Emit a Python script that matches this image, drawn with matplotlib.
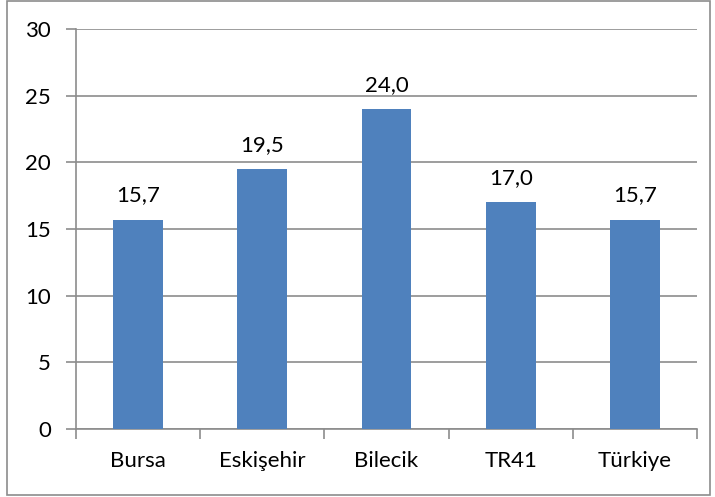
import matplotlib.pyplot as plt
from matplotlib.patches import Rectangle

# Veriler
categories = ["Bursa", "Eskişehir", "Bilecik", "TR41", "Türkiye"]
values = [15.7, 19.5, 24.0, 17.0, 15.7]
yticks = [0, 5, 10, 15, 20, 25, 30]

plt.rcParams['font.family'] = ['Lato', 'DejaVu Sans']

fig = plt.figure(figsize=(7.15, 4.97), dpi=100)
ax = fig.add_axes([0.106, 0.137, 0.869, 0.805])

# Dış çerçeve
fig.patches.append(Rectangle((7 / 715, 2 / 497), 703 / 715, 494 / 497,
                             transform=fig.transFigure, fill=False,
                             edgecolor="#8c8c8c", linewidth=1.2))

x = range(len(categories))
bars = ax.bar(x, values, width=0.4, color="#4F81BD", zorder=3)
for xi, v in zip(x, values):
    ax.text(xi, v + 1.35, f"{v:.1f}".replace(".", ","), ha="center",
            va="baseline", fontsize=16)

ax.set_xlim(-0.5, len(categories) - 0.5)
ax.set_ylim(0, 30)
ax.set_yticks(yticks)
ax.set_yticklabels([str(t) for t in yticks], fontsize=16)
ax.set_xticks([i + 0.5 for i in range(-1, len(categories))])
ax.set_xticklabels([])
ax.set_xticks(list(x), minor=True)
ax.set_xticklabels(categories, minor=True, fontsize=16)
ax.tick_params(axis="x", which="minor", length=0, pad=16)
ax.tick_params(axis="x", which="major", length=7, color="#8c8c8c", width=1.2)
ax.tick_params(axis="y", length=7, color="#8c8c8c", width=1.2, pad=11)

ax.yaxis.grid(True, color="#8c8c8c", linewidth=1.2, zorder=0)
ax.set_axisbelow(True)
for s in ["top", "right"]:
    ax.spines[s].set_visible(False)
for s in ["left", "bottom"]:
    ax.spines[s].set_color("#8c8c8c")
    ax.spines[s].set_linewidth(1.2)

fig.savefig("out.png", dpi=100)
